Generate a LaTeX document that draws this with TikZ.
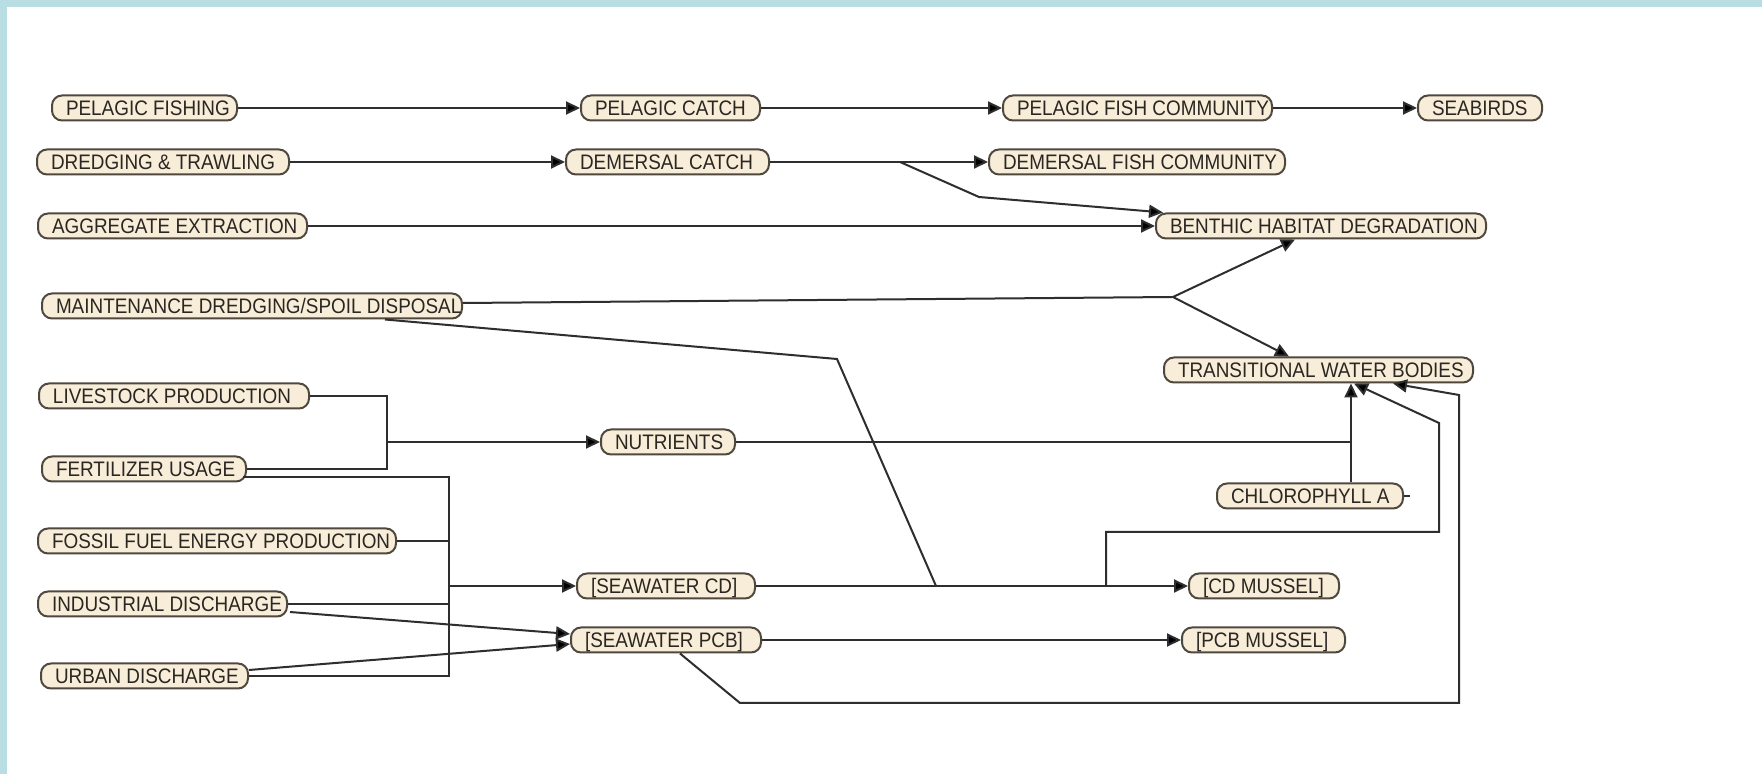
\documentclass[tikz,border=0pt]{standalone}
\usepackage{fontspec}
\setmainfont{Liberation Sans}
\newfontfamily\boxfont[FakeStretch=0.9]{Liberation Sans}
\usetikzlibrary{arrows.meta,calc}
\definecolor{framecol}{HTML}{B8DEE3}
\definecolor{boxfill}{HTML}{F8EDD8}
\definecolor{boxline}{HTML}{4F483F}
\definecolor{wirecol}{HTML}{2E2E2E}
\definecolor{ink}{HTML}{2A2622}
% fixed-width box label, text starts after a small left pad and may run past the end
\newcommand{\lbl}[2]{\makebox[#1][l]{\hspace{7pt}#2}}

\begin{document}
\begin{tikzpicture}[x=0.5pt,y=-0.5pt,
  box/.style={draw=boxline, fill=boxfill, line width=1pt, rounded corners=5pt,
    minimum height=12.5pt, inner xsep=0pt, inner ysep=0pt,
    text height=7.5pt, text depth=0pt, anchor=west,
    font=\boxfont\fontsize{10.5}{12}\selectfont, text=ink},
  wire/.style={draw=wirecol, line width=1pt},
  flow/.style={wire, -{Triangle[length=7pt,width=6.5pt,fill=black]}},
]
% frame
\fill[framecol] (0,0) rectangle (1762,774);
\fill[white] (7,7) rectangle (1762,774);
\useasboundingbox (0,0) rectangle (1762,774);

% nodes
\node[box] (pfish)    at (51,108)   {\lbl{92.5pt}{PELAGIC FISHING}};
\node[box] (pcatch)   at (580,108)  {\lbl{89.5pt}{PELAGIC CATCH}};
\node[box] (pcomm)    at (1002,108) {\lbl{134.5pt}{PELAGIC FISH COMMUNITY}};
\node[box] (seabirds) at (1417,108) {\lbl{62pt}{SEABIRDS}};
\node[box] (dredge)   at (36,162)   {\lbl{126pt}{DREDGING \& TRAWLING}};
\node[box] (dcatch)   at (565,162)  {\lbl{101.5pt}{DEMERSAL CATCH}};
\node[box] (dcomm)    at (988,162)  {\lbl{148pt}{DEMERSAL FISH COMMUNITY}};
\node[box] (aggr)     at (37,226)   {\lbl{134.5pt}{AGGREGATE EXTRACTION}};
\node[box] (benthic)  at (1155,226) {\lbl{165pt}{BENTHIC HABITAT DEGRADATION}};
\node[box] (maint)    at (41,306)   {\lbl{210pt}{MAINTENANCE DREDGING/SPOIL DISPOSAL}};
\node[box] (trans)    at (1163,370) {\lbl{154.5pt}{TRANSITIONAL WATER BODIES}};
\node[box] (live)     at (38,396)   {\lbl{135pt}{LIVESTOCK PRODUCTION}};
\node[box] (nutr)     at (600,442)  {\lbl{67pt}{NUTRIENTS}};
\node[box] (fert)     at (41,469)   {\lbl{102pt}{FERTILIZER USAGE}};
\node[box] (chl)      at (1216,496) {\lbl{93pt}{CHLOROPHYLL A}};
\node[box] (fossil)   at (37,541)   {\lbl{179pt}{FOSSIL FUEL ENERGY PRODUCTION}};
\node[box] (swcd)     at (576,586)  {\lbl{89pt}{[SEAWATER CD]}};
\node[box] (cdm)      at (1188,586) {\lbl{75pt}{[CD MUSSEL]}};
\node[box] (indus)    at (37,604)   {\lbl{124.5pt}{INDUSTRIAL DISCHARGE}};
\node[box] (swpcb)    at (570,640)  {\lbl{95pt}{[SEAWATER PCB]}};
\node[box] (pcbm)     at (1181,640) {\lbl{81.5pt}{[PCB MUSSEL]}};
\node[box] (urban)    at (40,676)   {\lbl{103.5pt}{URBAN DISCHARGE}};

% junction points
\coordinate (dsplit) at (900,162);
\coordinate (mjoin)  at (1173,297);
\coordinate (mmerge) at (936,586);
\coordinate (cdup)   at (1106,586);
\coordinate (nj)     at (387,442);
\coordinate (tj)     at (1350,442);
\coordinate (bus)    at (449,586);

% fisheries chains
\draw[flow] (pfish.east) -- (pcatch.west);
\draw[flow] (pcatch.east) -- (pcomm.west);
\draw[flow] (pcomm.east) -- (seabirds.west);
\draw[flow] (dredge.east) -- (dcatch.west);
\draw[flow] (dcatch.east) -- (dcomm.west);
\draw[flow] (dsplit) -- (979,197) -- ($(benthic.north west)+(8,0)$);
\draw[flow] (aggr.east) -- (benthic.west);

% maintenance dredging
\draw[wire] ($(maint.east)+(0,-3)$) -- (mjoin);
\draw[flow] (mjoin) -- ($(benthic.south)+(-26,0)$);
\draw[flow] (mjoin) -- ($(trans.north)+(-29.5,0)$);
\draw[wire] ($(maint.south east)+(-78,0)$) -- (837,359) -- (mmerge);

% cadmium
\draw[flow] (swcd.east) -- (cdm.west);
\draw[flow] (cdup) -- (1106,532) -- (1439,532) -- (1439,423) -- ($(trans.south)+(35.5,0)$);

% nutrients
\draw[wire] (live.east) -| (nj) |- (fert.east);
\draw[flow] (nj) -- (nutr.west);
\draw[wire] (nutr.east) -- (tj);
\draw[flow] ($(chl.north)+(41,0)$) -- ($(trans.south)+(32.5,0)$);
\draw[wire] (chl.east) -- ++(6,0);

% contaminant sources
\draw[wire] ($(fert.east)+(-4,8)$) -| (bus) |- (urban.east);
\draw[wire] (fossil.east) -- (fossil.east -| bus);
\draw[wire] (indus.east) -- (indus.east -| bus);
\draw[flow] (bus) -- (swcd.west);
\draw[flow] ($(indus.east)+(2,8)$) -- ($(swpcb.west)+(0,-6)$);
\draw[flow] ($(urban.east)+(0,-6)$) -- ($(swpcb.west)+(0,4)$);

% PCB
\draw[flow] (swpcb.east) -- (pcbm.west);
\draw[flow] ($(swpcb.south)+(14,0)$) -- (740,703) -- (1459,703) -- (1459,395) -- ($(trans.south)+(74.5,0)$);
\end{tikzpicture}
\end{document}
